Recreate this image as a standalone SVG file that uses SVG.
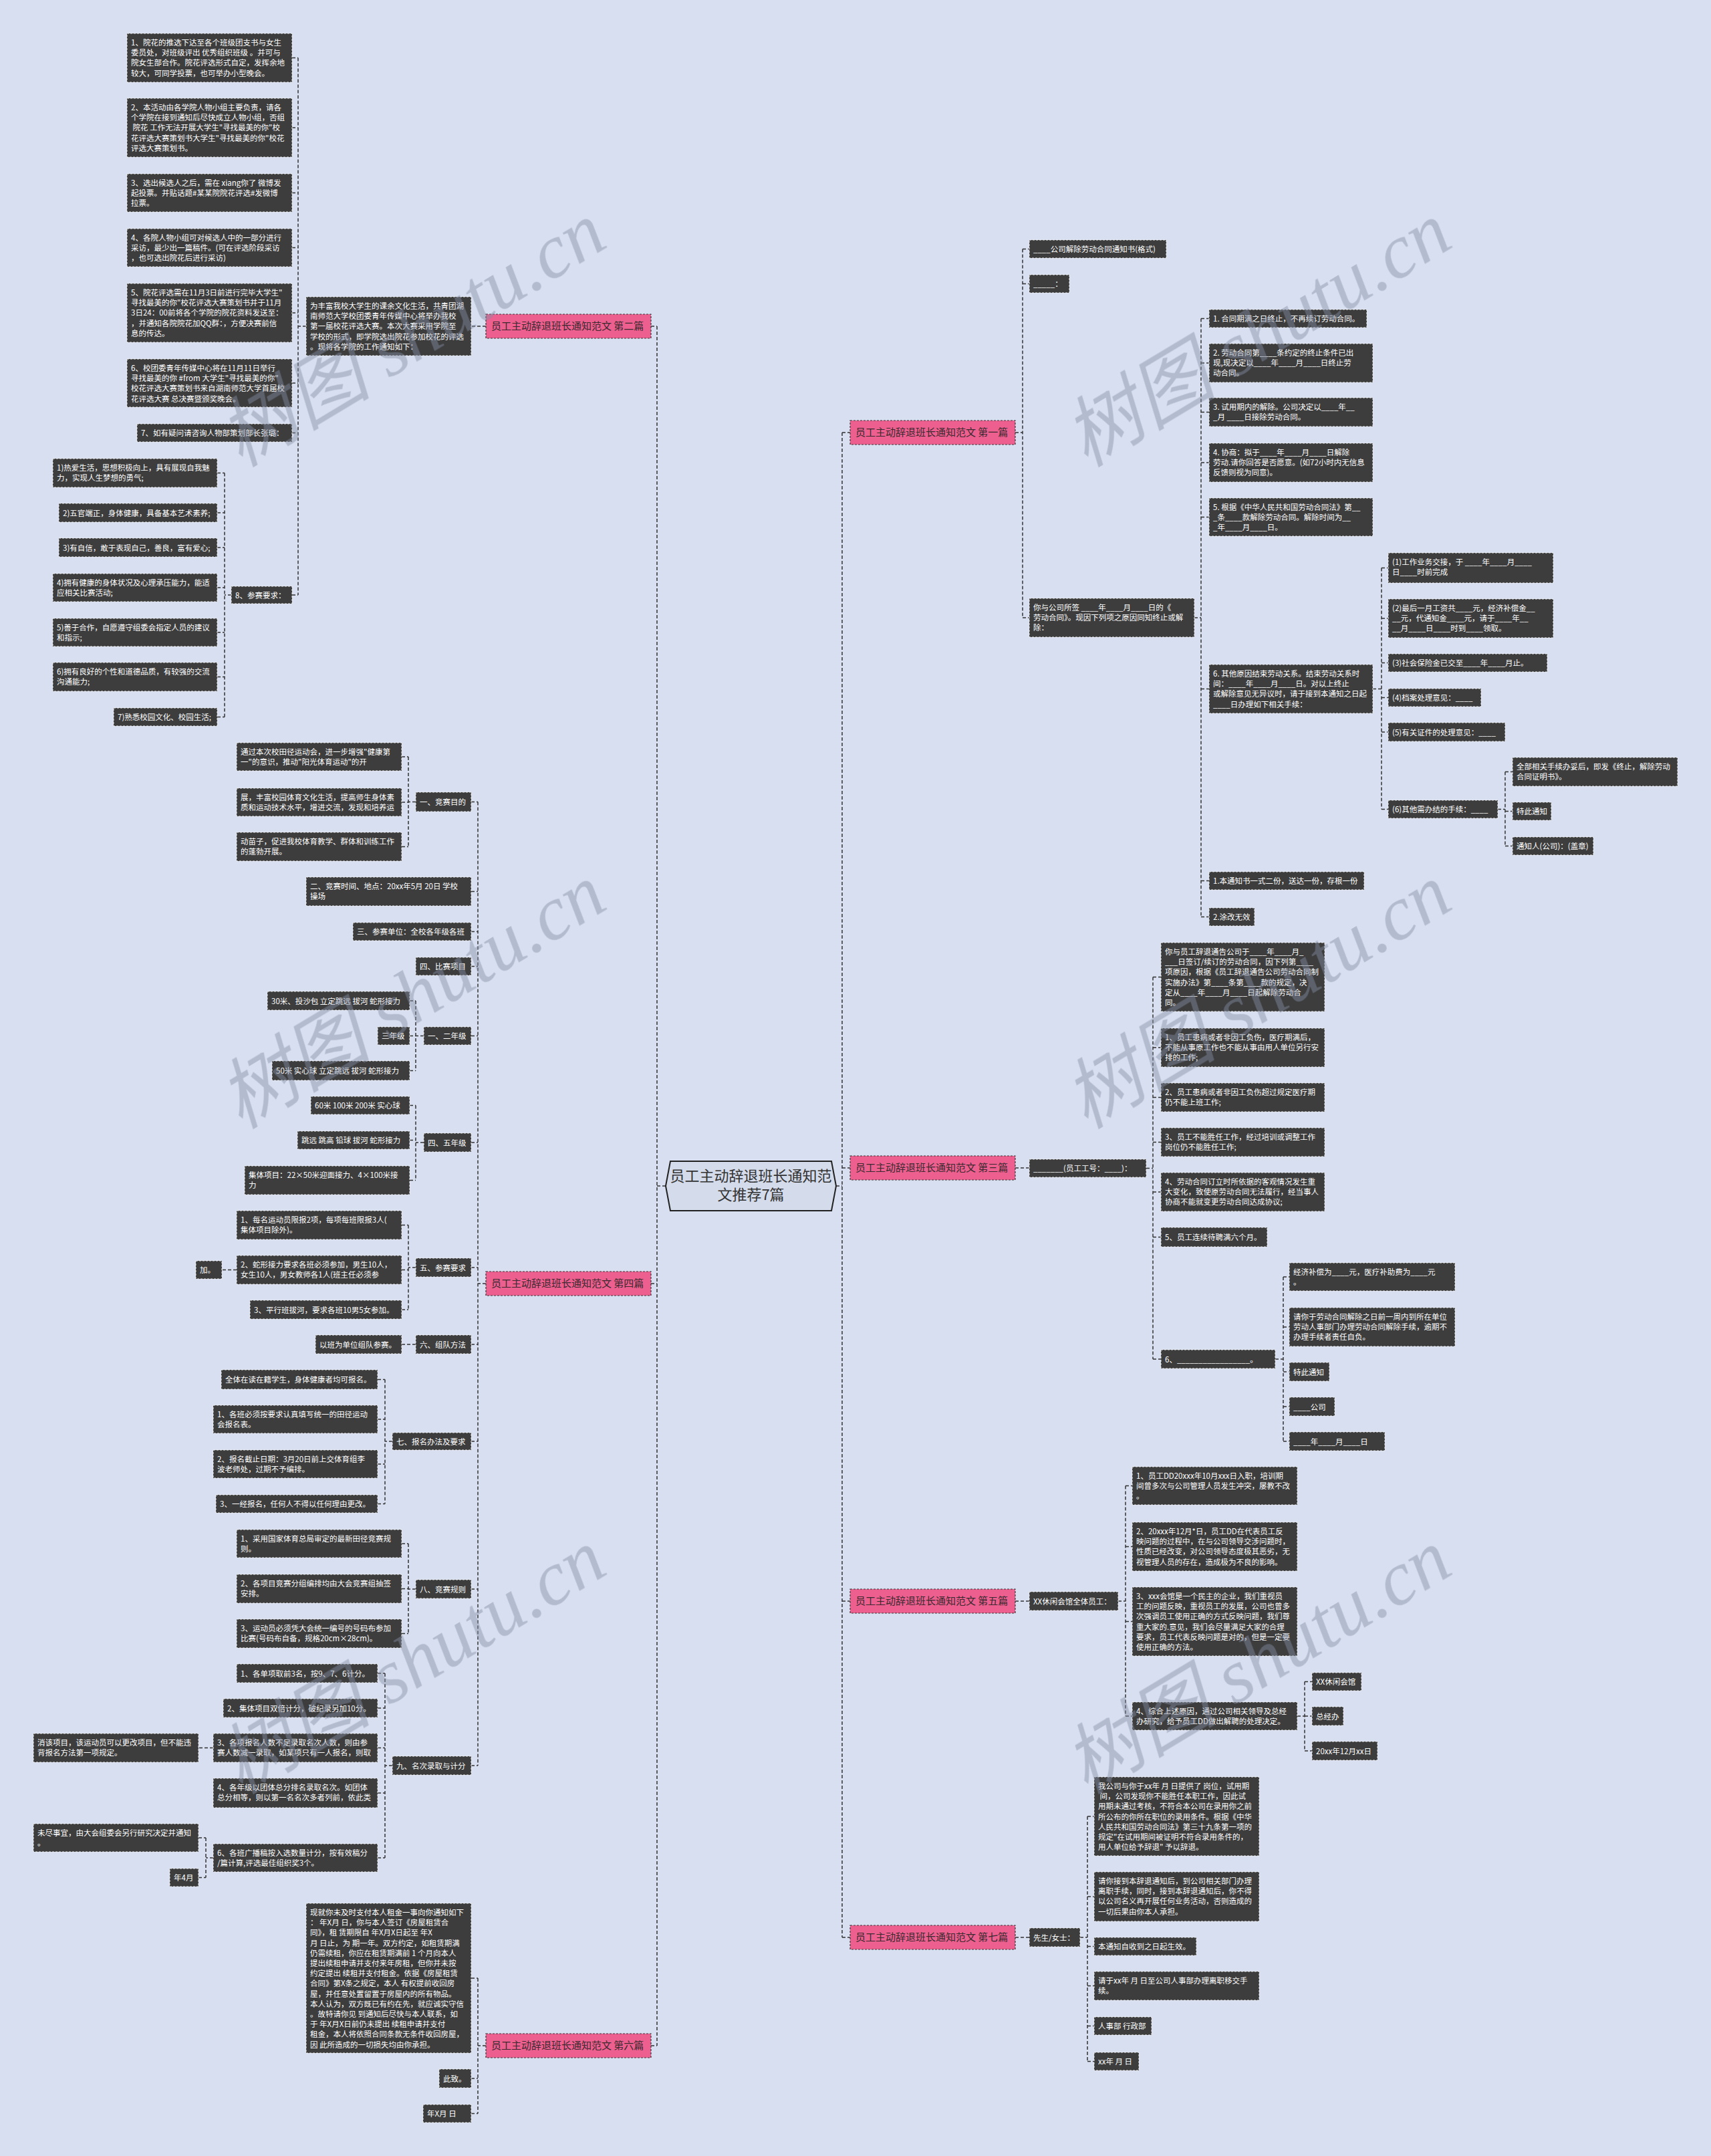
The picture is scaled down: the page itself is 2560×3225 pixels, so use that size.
<svg xmlns="http://www.w3.org/2000/svg" width="2560" height="3225" viewBox="0 0 2560 3225">
<style>
.bg{fill:#d8dff1}
.n rect{fill:#3d3d3d;stroke:#eeeeee;stroke-width:1;stroke-dasharray:3 2}
.n text{fill:#ffffff;font-size:11.5px;font-family:"Noto Sans CJK SC","Liberation Sans",sans-serif}
.p rect{fill:#ec5f8e;stroke:#3a3a3a;stroke-width:1.2;stroke-dasharray:3 2}
.p text{fill:#3a2a30;font-size:15px;font-family:"Noto Sans CJK SC","Liberation Sans",sans-serif}
.root polygon{fill:#d4dbea;stroke:#222;stroke-width:2}
.root text{fill:#333;font-size:22px;font-family:"Noto Sans CJK SC","Liberation Sans",sans-serif;text-anchor:middle}
.c path{fill:none;stroke:#333;stroke-width:1.5;stroke-dasharray:5 3}
.wm{fill:#8690a6;opacity:0.45;font-size:115px;font-family:"Liberation Serif","Noto Sans CJK SC",serif;font-style:italic}
</style>
<rect class="bg" x="0" y="0" width="2560" height="3225"/>

<g id="connectors" class="c">
<path d="M983,488 V3060 M974,488 H983 M974,1920 H983 M974,3060 H983 M996,1774 H983"/>
<path d="M727,488 H705 M458,488 H446 M446,86.5 V890 M437,86.5 H446 M437,191 H446 M437,288.5 H446 M437,370.5 H446 M437,468 H446 M437,573 H446 M437,647.5 H446 M437,890 H446"/>
<path d="M346,890 H336 M336,707.5 V1072.5 M325,707.5 H336 M325,767 H336 M325,819 H336 M325,879 H336 M325,946 H336 M325,1012.5 H336 M325,1072.5 H336"/>
<path d="M727,1920 H715 M715,1199.5 V2641 M705,1199.5 H715 M705,1333.5 H715 M705,1393.5 H715 M705,1445.5 H715 M705,1549.5 H715 M705,1709 H715 M705,1896 H715 M705,2011 H715 M705,2156 H715 M705,2377 H715 M705,2641 H715"/>
<path d="M622,1199.5 H611 M611,1132 V1266.5 M601,1132 H611 M601,1200 H611 M601,1266.5 H611"/>
<path d="M634,1549.5 H622 M622,1497 V1601.5 M613,1497 H622 M613,1549.5 H622 M613,1601.5 H622"/>
<path d="M634,1709 H622 M622,1653.5 V1765.5 M613,1653.5 H622 M613,1705.5 H622 M613,1765.5 H622"/>
<path d="M622,1896 H611 M611,1832.5 V1959 M601,1832.5 H611 M601,1899.5 H611 M601,1959 H611 M354,1899.5 H332"/>
<path d="M622,2011 H601"/>
<path d="M587,2156 H576 M576,2063.5 V2249.5 M565,2063.5 H576 M565,2123 H576 M565,2190 H576 M565,2249.5 H576"/>
<path d="M622,2377 H611 M611,2309 V2443.5 M601,2309 H611 M601,2376.5 H611 M601,2443.5 H611"/>
<path d="M587,2641 H576 M576,2503 V2779 M565,2503 H576 M565,2555 H576 M565,2614.5 H576 M565,2682 H576 M565,2779 H576 M319,2614.5 H297"/>
<path d="M319,2779 H308 M308,2749 V2808.5 M297,2749 H308 M297,2808.5 H308"/>
<path d="M727,3060 H715 M715,2959 V3161.5 M705,2959 H715 M705,3109 H715 M705,3161.5 H715"/>
<path d="M1260,647 V2898 M1251,1774 H1260 M1260,647 H1272 M1260,1747 H1272 M1260,2395 H1272 M1260,2898 H1272"/>
<path d="M1519,647 H1530 M1530,372.5 V924 M1530,372.5 H1540 M1530,424.5 H1540 M1530,924 H1540"/>
<path d="M1787,924 H1797 M1797,476.5 V1371.5 M1797,476.5 H1809 M1797,543 H1809 M1797,616.5 H1809 M1797,692 H1809 M1797,773.5 H1809 M1797,1030.5 H1809 M1797,1317.5 H1809 M1797,1371.5 H1809"/>
<path d="M2054,1030.5 H2067 M2067,849.5 V1210.5 M2067,849.5 H2077 M2067,925 H2077 M2067,991.5 H2077 M2067,1043.5 H2077 M2067,1095 H2077 M2067,1210.5 H2077"/>
<path d="M2241,1210.5 H2252 M2252,1154.5 V1265.5 M2252,1154.5 H2263 M2252,1213.5 H2263 M2252,1265.5 H2263"/>
<path d="M1519,1747 H1540 M1715,1747.5 H1725 M1725,1461.5 V2033 M1725,1461.5 H1737 M1725,1567 H1737 M1725,1641.5 H1737 M1725,1708.5 H1737 M1725,1783 H1737 M1725,1850.5 H1737 M1725,2033 H1737"/>
<path d="M1908,2033 H1920 M1920,1910 V2156 M1920,1910 H1929 M1920,1985 H1929 M1920,2052 H1929 M1920,2104 H1929 M1920,2156 H1929"/>
<path d="M1519,2395 H1540 M1673,2395 H1684 M1684,2222.5 V2567 M1684,2222.5 H1694 M1684,2313.5 H1694 M1684,2425.5 H1694 M1684,2567 H1694"/>
<path d="M1941,2567 H1952 M1952,2515.5 V2619 M1952,2515.5 H1963 M1952,2567 H1963 M1952,2619 H1963"/>
<path d="M1519,2898 H1540 M1616,2898 H1627 M1627,2717 V3083.5 M1627,2717 H1637 M1627,2837 H1637 M1627,2911.5 H1637 M1627,2970.5 H1637 M1627,3030.5 H1637 M1627,3083.5 H1637"/>
</g>

<g id="root" class="root">
<polygon points="996,1774 1003,1737 1244,1737 1251,1774 1244,1811 1003,1811"/>
<text x="1123.5" y="1767">员工主动辞退班长通知范</text>
<text x="1123.5" y="1795">文推荐7篇</text>
</g>

<!-- 第二篇 -->
<g id="b2" class="p" transform="translate(727,470)"><rect width="247" height="36"/><text x="8" y="23">员工主动辞退班长通知范文 第二篇</text></g>
<g id="b2_intro" class="n" transform="translate(458,444)"><rect width="247" height="88"/><text><tspan x="6" y="18">为丰富我校大学生的课余文化生活，共青团湖</tspan><tspan x="6" y="33.2">南师范大学校团委青年传媒中心将举办我校</tspan><tspan x="6" y="48.4">第一届校花评选大赛。本次大赛采用学院至</tspan><tspan x="6" y="63.6">学校的形式，即学院选出院花参加校花的评选</tspan><tspan x="6" y="78.8">。现将各学院的工作通知如下：</tspan></text></g>
<g id="b2_1" class="n" transform="translate(190,50)"><rect width="247" height="73"/><text><tspan x="6" y="18">1、院花的推选下达至各个班级团支书与女生</tspan><tspan x="6" y="33.2">委员处，对班级评出 优秀组织班级 。并可与</tspan><tspan x="6" y="48.4">院女生部合作。院花评选形式自定，发挥余地</tspan><tspan x="6" y="63.6">较大，可同学投票，也可举办小型晚会。</tspan></text></g>
<g id="b2_2" class="n" transform="translate(190,147)"><rect width="247" height="88"/><text><tspan x="6" y="18">2、本活动由各学院人物小组主要负责，请各</tspan><tspan x="6" y="33.2">个学院在接到通知后尽快成立人物小组，否组</tspan><tspan x="6" y="48.4"> 院花 工作无法开展大学生"寻找最美的你"校</tspan><tspan x="6" y="63.6">花评选大赛策划书大学生"寻找最美的你"校花</tspan><tspan x="6" y="78.8">评选大赛策划书。</tspan></text></g>
<g id="b2_3" class="n" transform="translate(190,260)"><rect width="247" height="57"/><text><tspan x="6" y="18">3、选出候选人之后，需在 xiang你了 微博发</tspan><tspan x="6" y="33.2">起投票。并贴话题#某某院院花评选#发微博</tspan><tspan x="6" y="48.4">拉票。</tspan></text></g>
<g id="b2_4" class="n" transform="translate(190,342)"><rect width="247" height="57"/><text><tspan x="6" y="18">4、各院人物小组可对候选人中的一部分进行</tspan><tspan x="6" y="33.2">采访，最少出一篇稿件。(可在评选阶段采访</tspan><tspan x="6" y="48.4">，也可选出院花后进行采访)</tspan></text></g>
<g id="b2_5" class="n" transform="translate(190,424)"><rect width="247" height="88"/><text><tspan x="6" y="18">5、院花评选需在11月3日前进行完毕大学生"</tspan><tspan x="6" y="33.2">寻找最美的你"校花评选大赛策划书并于11月</tspan><tspan x="6" y="48.4">3日24：00前将各个学院的院花资料发送至：</tspan><tspan x="6" y="63.6">，并通知各院院花加QQ群：，方便决赛前信</tspan><tspan x="6" y="78.8">息的传达。</tspan></text></g>
<g id="b2_6" class="n" transform="translate(190,537)"><rect width="247" height="72"/><text><tspan x="6" y="18">6、校团委青年传媒中心将在11月11日举行</tspan><tspan x="6" y="33.2">寻找最美的你 #from 大学生"寻找最美的你"</tspan><tspan x="6" y="48.4">校花评选大赛策划书来自湖南师范大学首届校</tspan><tspan x="6" y="63.6">花评选大赛 总决赛暨颁奖晚会。</tspan></text></g>
<g id="b2_7" class="n" transform="translate(205,634)"><rect width="232" height="27"/><text x="6" y="18">7、如有疑问请咨询人物部策划部长张璐：</text></g>
<g id="b2_8" class="n" transform="translate(346,877)"><rect width="91" height="26"/><text x="6" y="17.5">8、参赛要求：</text></g>
<g id="b2_8_1" class="n" transform="translate(79,686)"><rect width="246" height="43"/><text><tspan x="6" y="18">1)热爱生活，思想积极向上，具有展现自我魅</tspan><tspan x="6" y="33.2">力，实现人生梦想的勇气;</tspan></text></g>
<g id="b2_8_2" class="n" transform="translate(88,753)"><rect width="237" height="28"/><text x="6" y="18.5">2)五官端正，身体健康，具备基本艺术素养;</text></g>
<g id="b2_8_3" class="n" transform="translate(88,805)"><rect width="237" height="28"/><text x="6" y="18.5">3)有自信，敢于表现自己，善良，富有爱心;</text></g>
<g id="b2_8_4" class="n" transform="translate(79,858)"><rect width="246" height="42"/><text><tspan x="6" y="18">4)拥有健康的身体状况及心理承压能力，能适</tspan><tspan x="6" y="33.2">应相关比赛活动;</tspan></text></g>
<g id="b2_8_5" class="n" transform="translate(79,925)"><rect width="246" height="42"/><text><tspan x="6" y="18">5)善于合作，自愿遵守组委会指定人员的建议</tspan><tspan x="6" y="33.2">和指示;</tspan></text></g>
<g id="b2_8_6" class="n" transform="translate(79,991)"><rect width="246" height="43"/><text><tspan x="6" y="18">6)拥有良好的个性和道德品质，有较强的交流</tspan><tspan x="6" y="33.2">沟通能力;</tspan></text></g>
<g id="b2_8_7" class="n" transform="translate(170,1059)"><rect width="155" height="27"/><text x="6" y="18">7)熟悉校园文化、校园生活;</text></g>

<!-- 第四篇 -->
<g id="b4" class="p" transform="translate(727,1902)"><rect width="247" height="36"/><text x="8" y="23">员工主动辞退班长通知范文 第四篇</text></g>
<g id="b4_1" class="n" transform="translate(622,1185)"><rect width="83" height="29"/><text x="6" y="19">一、竞赛目的</text></g>
<g id="b4_1a" class="n" transform="translate(354,1111)"><rect width="247" height="42"/><text><tspan x="6" y="18">通过本次校田径运动会，进一步增强"健康第</tspan><tspan x="6" y="33.2">一"的意识，推动"阳光体育运动"的开</tspan></text></g>
<g id="b4_1b" class="n" transform="translate(354,1179)"><rect width="247" height="42"/><text><tspan x="6" y="18">展，丰富校园体育文化生活，提高师生身体素</tspan><tspan x="6" y="33.2">质和运动技术水平，增进交流，发现和培养运</tspan></text></g>
<g id="b4_1c" class="n" transform="translate(354,1245)"><rect width="247" height="43"/><text><tspan x="6" y="18">动苗子，促进我校体育教学、群体和训练工作</tspan><tspan x="6" y="33.2">的蓬勃开展。</tspan></text></g>
<g id="b4_2" class="n" transform="translate(458,1312)"><rect width="247" height="43"/><text><tspan x="6" y="18">二、竞赛时间、地点：20xx年5月 20日 学校</tspan><tspan x="6" y="33.2">操场</tspan></text></g>
<g id="b4_3" class="n" transform="translate(528,1380)"><rect width="177" height="27"/><text x="6" y="18">三、参赛单位：全校各年级各班</text></g>
<g id="b4_4" class="n" transform="translate(622,1432)"><rect width="83" height="27"/><text x="6" y="18">四、比赛项目</text></g>
<g id="b4_g12" class="n" transform="translate(634,1536)"><rect width="71" height="27"/><text x="6" y="18">一、二年级</text></g>
<g id="b4_g12a" class="n" transform="translate(400,1483)"><rect width="213" height="28"/><text x="6" y="18.5">30米、投沙包 立定跳远 拔河 蛇形接力</text></g>
<g id="b4_g12b" class="n" transform="translate(565,1536)"><rect width="48" height="27"/><text x="6" y="18">三年级</text></g>
<g id="b4_g12c" class="n" transform="translate(407,1587)"><rect width="206" height="29"/><text x="6" y="19">50米 实心球 立定跳远 拔河 蛇形接力</text></g>
<g id="b4_g45" class="n" transform="translate(634,1695)"><rect width="71" height="28"/><text x="6" y="18.5">四、五年级</text></g>
<g id="b4_g45a" class="n" transform="translate(465,1640)"><rect width="148" height="27"/><text x="6" y="18">60米 100米 200米 实心球</text></g>
<g id="b4_g45b" class="n" transform="translate(445,1692)"><rect width="168" height="27"/><text x="6" y="18">跳远 跳高 铅球 拔河 蛇形接力</text></g>
<g id="b4_g45c" class="n" transform="translate(366,1744)"><rect width="247" height="43"/><text><tspan x="6" y="18">集体项目：22×50米迎面接力、4×100米接</tspan><tspan x="6" y="33.2">力</tspan></text></g>
<g id="b4_5" class="n" transform="translate(622,1882)"><rect width="83" height="28"/><text x="6" y="18.5">五、参赛要求</text></g>
<g id="b4_5a" class="n" transform="translate(354,1811)"><rect width="247" height="43"/><text><tspan x="6" y="18">1、每名运动员限报2项，每项每班限报3人(</tspan><tspan x="6" y="33.2">集体项目除外)。</tspan></text></g>
<g id="b4_5b" class="n" transform="translate(354,1878)"><rect width="247" height="43"/><text><tspan x="6" y="18">2、蛇形接力要求各班必须参加，男生10人，</tspan><tspan x="6" y="33.2">女生10人，男女教师各1人(班主任必须参</tspan></text></g>
<g id="b4_5b1" class="n" transform="translate(293,1886)"><rect width="39" height="27"/><text x="6" y="18">加。</text></g>
<g id="b4_5c" class="n" transform="translate(374,1945)"><rect width="227" height="28"/><text x="6" y="18.5">3、平行班拔河，要求各班10男5女参加。</text></g>
<g id="b4_6" class="n" transform="translate(622,1997)"><rect width="83" height="28"/><text x="6" y="18.5">六、组队方法</text></g>
<g id="b4_6a" class="n" transform="translate(472,1997)"><rect width="129" height="28"/><text x="6" y="18.5">以班为单位组队参赛。</text></g>
<g id="b4_7" class="n" transform="translate(587,2143)"><rect width="118" height="26"/><text x="6" y="17.5">七、报名办法及要求</text></g>
<g id="b4_7a" class="n" transform="translate(331,2049)"><rect width="234" height="29"/><text x="6" y="19">全体在读在籍学生，身体健康者均可报名。</text></g>
<g id="b4_7b" class="n" transform="translate(319,2102)"><rect width="246" height="42"/><text><tspan x="6" y="18">1、各班必须按要求认真填写统一的田径运动</tspan><tspan x="6" y="33.2">会报名表。</tspan></text></g>
<g id="b4_7c" class="n" transform="translate(319,2169)"><rect width="246" height="42"/><text><tspan x="6" y="18">2、报名截止日期：3月20日前上交体育组李</tspan><tspan x="6" y="33.2">波老师处，过期不予编排。</tspan></text></g>
<g id="b4_7d" class="n" transform="translate(323,2236)"><rect width="242" height="27"/><text x="6" y="18">3、一经报名，任何人不得以任何理由更改。</text></g>
<g id="b4_8" class="n" transform="translate(622,2363)"><rect width="83" height="28"/><text x="6" y="18.5">八、竞赛规则</text></g>
<g id="b4_8a" class="n" transform="translate(354,2288)"><rect width="247" height="42"/><text><tspan x="6" y="18">1、采用国家体育总局审定的最新田径竞赛规</tspan><tspan x="6" y="33.2">则。</tspan></text></g>
<g id="b4_8b" class="n" transform="translate(354,2355)"><rect width="247" height="43"/><text><tspan x="6" y="18">2、各项目竞赛分组编排均由大会竞赛组抽签</tspan><tspan x="6" y="33.2">安排。</tspan></text></g>
<g id="b4_8c" class="n" transform="translate(354,2422)"><rect width="247" height="43"/><text><tspan x="6" y="18">3、运动员必须凭大会统一编号的号码布参加</tspan><tspan x="6" y="33.2">比赛(号码布自备，规格20cm×28cm)。</tspan></text></g>
<g id="b4_9" class="n" transform="translate(587,2627)"><rect width="118" height="28"/><text x="6" y="18.5">九、名次录取与计分</text></g>
<g id="b4_9a" class="n" transform="translate(354,2489)"><rect width="211" height="28"/><text x="6" y="18.5">1、各单项取前3名，按9、7、6计分。</text></g>
<g id="b4_9b" class="n" transform="translate(334,2541)"><rect width="231" height="28"/><text x="6" y="18.5">2、集体项目双倍计分，破纪录另加10分。</text></g>
<g id="b4_9c" class="n" transform="translate(319,2593)"><rect width="246" height="43"/><text><tspan x="6" y="18">3、各项报名人数不足录取名次人数，则由参</tspan><tspan x="6" y="33.2">赛人数减一录取，如某项只有一人报名，则取</tspan></text></g>
<g id="b4_9c1" class="n" transform="translate(50,2593)"><rect width="247" height="43"/><text><tspan x="6" y="18">消该项目，该运动员可以更改项目，但不能违</tspan><tspan x="6" y="33.2">背报名方法第一项规定。</tspan></text></g>
<g id="b4_9d" class="n" transform="translate(319,2660)"><rect width="246" height="44"/><text><tspan x="6" y="18">4、各年级以团体总分排名录取名次。如团体</tspan><tspan x="6" y="33.2">总分相等，则以第一名名次多者列前，依此类</tspan></text></g>
<g id="b4_9e" class="n" transform="translate(319,2758)"><rect width="246" height="42"/><text><tspan x="6" y="18">6、各班广播稿按入选数量计分，按有效稿分</tspan><tspan x="6" y="33.2">/篇计算,评选最佳组织奖3个。</tspan></text></g>
<g id="b4_9e1" class="n" transform="translate(50,2728)"><rect width="247" height="42"/><text><tspan x="6" y="18">未尽事宜，由大会组委会另行研究决定并通知</tspan><tspan x="6" y="33.2">。</tspan></text></g>
<g id="b4_9e2" class="n" transform="translate(254,2795)"><rect width="43" height="27"/><text x="6" y="18">年4月</text></g>

<!-- 第六篇 -->
<g id="b6" class="p" transform="translate(727,3042)"><rect width="247" height="36"/><text x="8" y="23">员工主动辞退班长通知范文 第六篇</text></g>
<g id="b6_1" class="n" transform="translate(458,2847)"><rect width="247" height="224"/><text><tspan x="6" y="18">现就你未及时支付本人租金一事向你通知如下</tspan><tspan x="6" y="33.2">： 年X月 日，你与本人签订《房屋租赁合</tspan><tspan x="6" y="48.4">同》，租 赁期限自 年X月X日起至 年X</tspan><tspan x="6" y="63.6">月 日止，为 期一年。双方约定，如租赁期满</tspan><tspan x="6" y="78.8">仍需续租，你应在租赁期满前 1 个月向本人</tspan><tspan x="6" y="94">提出续租申请并支付来年房租，但你并未按</tspan><tspan x="6" y="109.2">约定提出 续租并支付租金。依据《房屋租赁</tspan><tspan x="6" y="124.4">合同》第X条之规定，本人 有权提前收回房</tspan><tspan x="6" y="139.6">屋，并任意处置留置于房屋内的所有物品。</tspan><tspan x="6" y="154.8">本人认为，双方既已有约在先，就应诚实守信</tspan><tspan x="6" y="170">。故特请你见 到通知后尽快与本人联系，如</tspan><tspan x="6" y="185.2">于 年X月X日前仍未提出 续租申请并支付</tspan><tspan x="6" y="200.4">租金，本人将依照合同条款无条件收回房屋，</tspan><tspan x="6" y="215.6">因 此所造成的一切损失均由你承担。</tspan></text></g>
<g id="b6_2" class="n" transform="translate(657,3095)"><rect width="48" height="28"/><text x="6" y="18.5">此致。</text></g>
<g id="b6_3" class="n" transform="translate(633,3148)"><rect width="72" height="27"/><text x="6" y="18">年X月 日</text></g>

<!-- 第一篇 -->
<g id="b1" class="p" transform="translate(1272,629)"><rect width="247" height="36"/><text x="8" y="23">员工主动辞退班长通知范文 第一篇</text></g>
<g id="b1_1" class="n" transform="translate(1540,359)"><rect width="205" height="27"/><text x="6" y="18">____公司解除劳动合同通知书(格式)</text></g>
<g id="b1_2" class="n" transform="translate(1540,411)"><rect width="60" height="27"/><text x="6" y="18">_____：</text></g>
<g id="b1_3" class="n" transform="translate(1540,895)"><rect width="247" height="58"/><text><tspan x="6" y="18">你与公司所签 ____年____月____日的《</tspan><tspan x="6" y="33.2">劳动合同》。现因下列项之原因同知终止或解</tspan><tspan x="6" y="48.4">除：</tspan></text></g>
<g id="b1_3a" class="n" transform="translate(1809,463)"><rect width="236" height="27"/><text x="6" y="18">1. 合同期满之日终止，不再续订劳动合同。</text></g>
<g id="b1_3b" class="n" transform="translate(1809,514)"><rect width="245" height="58"/><text><tspan x="6" y="18">2. 劳动合同第____条约定的终止条件已出</tspan><tspan x="6" y="33.2">现,现决定以____年____月____日终止劳</tspan><tspan x="6" y="48.4">动合同。</tspan></text></g>
<g id="b1_3c" class="n" transform="translate(1809,595)"><rect width="245" height="43"/><text><tspan x="6" y="18">3. 试用期内的解除。公司决定以____年__</tspan><tspan x="6" y="33.2">_月 ____日接除劳动合同。</tspan></text></g>
<g id="b1_3d" class="n" transform="translate(1809,663)"><rect width="245" height="58"/><text><tspan x="6" y="18">4. 协商：拟于____年____月____日解除</tspan><tspan x="6" y="33.2">劳动.请你回答是否愿意。(如72小时内无信息</tspan><tspan x="6" y="48.4">反馈则视为同意)。</tspan></text></g>
<g id="b1_3e" class="n" transform="translate(1809,745)"><rect width="245" height="57"/><text><tspan x="6" y="18">5. 根据《中华人民共和国劳动合同法》第__</tspan><tspan x="6" y="33.2">_条____款解除劳动合同。解除时间为__</tspan><tspan x="6" y="48.4">_年____月____日。</tspan></text></g>
<g id="b1_3f" class="n" transform="translate(1809,994)"><rect width="245" height="73"/><text><tspan x="6" y="18">6. 其他原因结束劳动关系。结束劳动关系时</tspan><tspan x="6" y="33.2">间：____年____月____日。对以上终止</tspan><tspan x="6" y="48.4">或解除意见无异议时，请于接到本通知之日起</tspan><tspan x="6" y="63.6">____日办理如下相关手续：</tspan></text></g>
<g id="b1_3f1" class="n" transform="translate(2077,827)"><rect width="247" height="45"/><text><tspan x="6" y="18">(1)工作业务交接，于 ____年____月____</tspan><tspan x="6" y="33.2">日____时前完成</tspan></text></g>
<g id="b1_3f2" class="n" transform="translate(2077,896)"><rect width="247" height="58"/><text><tspan x="6" y="18">(2)最后一月工资共____元，经济补偿金__</tspan><tspan x="6" y="33.2">__元，代通知金____元，请于____年__</tspan><tspan x="6" y="48.4">__月____日____时到____领取。</tspan></text></g>
<g id="b1_3f3" class="n" transform="translate(2077,978)"><rect width="238" height="27"/><text x="6" y="18">(3)社会保险金已交至____年____月止。</text></g>
<g id="b1_3f4" class="n" transform="translate(2077,1030)"><rect width="139" height="27"/><text x="6" y="18">(4)档案处理意见：____</text></g>
<g id="b1_3f5" class="n" transform="translate(2077,1081)"><rect width="175" height="28"/><text x="6" y="18.5">(5)有关证件的处理意见：____</text></g>
<g id="b1_3f6" class="n" transform="translate(2077,1197)"><rect width="164" height="27"/><text x="6" y="18">(6)其他需办结的手续：____</text></g>
<g id="b1_3f6a" class="n" transform="translate(2263,1133)"><rect width="247" height="43"/><text><tspan x="6" y="18">全部相关手续办妥后，即发《终止，解除劳动</tspan><tspan x="6" y="33.2">合同证明书》。</tspan></text></g>
<g id="b1_3f6b" class="n" transform="translate(2263,1200)"><rect width="58" height="27"/><text x="6" y="18">特此通知</text></g>
<g id="b1_3f6c" class="n" transform="translate(2263,1252)"><rect width="121" height="27"/><text x="6" y="18">通知人(公司)：(盖章)</text></g>
<g id="b1_3g" class="n" transform="translate(1809,1304)"><rect width="232" height="27"/><text x="6" y="18">1.本通知书一式二份，送达一份，存根一份</text></g>
<g id="b1_3h" class="n" transform="translate(1809,1358)"><rect width="68" height="27"/><text x="6" y="18">2.涂改无效</text></g>

<!-- 第三篇 -->
<g id="b3" class="p" transform="translate(1272,1729)"><rect width="247" height="36"/><text x="8" y="23">员工主动辞退班长通知范文 第三篇</text></g>
<g id="b3_1" class="n" transform="translate(1540,1734)"><rect width="175" height="27"/><text x="6" y="18">_______(员工工号：____)：</text></g>
<g id="b3_1a" class="n" transform="translate(1737,1410)"><rect width="245" height="103"/><text><tspan x="6" y="18">你与员工辞退通告公司于____年____月_</tspan><tspan x="6" y="33.2">___日签订/续订的劳动合同，因下列第____</tspan><tspan x="6" y="48.4">项原因，根据《员工辞退通告公司劳动合同制</tspan><tspan x="6" y="63.6">实施办法》第____条第____款的规定，决</tspan><tspan x="6" y="78.8">定从____年____月____日起解除劳动合</tspan><tspan x="6" y="94">同。</tspan></text></g>
<g id="b3_1b" class="n" transform="translate(1737,1538)"><rect width="245" height="58"/><text><tspan x="6" y="18">1、员工患病或者非因工负伤，医疗期满后，</tspan><tspan x="6" y="33.2">不能从事原工作也不能从事由用人单位另行安</tspan><tspan x="6" y="48.4">排的工作;</tspan></text></g>
<g id="b3_1c" class="n" transform="translate(1737,1620)"><rect width="245" height="43"/><text><tspan x="6" y="18">2、员工患病或者非因工负伤超过规定医疗期</tspan><tspan x="6" y="33.2">仍不能上班工作;</tspan></text></g>
<g id="b3_1d" class="n" transform="translate(1737,1687)"><rect width="245" height="43"/><text><tspan x="6" y="18">3、员工不能胜任工作，经过培训或调整工作</tspan><tspan x="6" y="33.2">岗位仍不能胜任工作;</tspan></text></g>
<g id="b3_1e" class="n" transform="translate(1737,1754)"><rect width="245" height="58"/><text><tspan x="6" y="18">4、劳动合同订立时所依据的客观情况发生重</tspan><tspan x="6" y="33.2">大变化，致使原劳动合同无法履行，经当事人</tspan><tspan x="6" y="48.4">协商不能就变更劳动合同达成协议;</tspan></text></g>
<g id="b3_1f" class="n" transform="translate(1737,1836)"><rect width="159" height="29"/><text x="6" y="19">5、员工连续待聘满六个月。</text></g>
<g id="b3_1g" class="n" transform="translate(1737,2019)"><rect width="171" height="28"/><text x="6" y="18.5">6、_________________。</text></g>
<g id="b3_1g1" class="n" transform="translate(1929,1889)"><rect width="248" height="42"/><text><tspan x="6" y="18">经济补偿为____元，医疗补助费为____元</tspan><tspan x="6" y="33.2">。</tspan></text></g>
<g id="b3_1g2" class="n" transform="translate(1929,1956)"><rect width="248" height="58"/><text><tspan x="6" y="18">请你于劳动合同解除之日前一周内到所在单位</tspan><tspan x="6" y="33.2">劳动人事部门办理劳动合同解除手续，逾期不</tspan><tspan x="6" y="48.4">办理手续者责任自负。</tspan></text></g>
<g id="b3_1g3" class="n" transform="translate(1929,2038)"><rect width="60" height="28"/><text x="6" y="18.5">特此通知</text></g>
<g id="b3_1g4" class="n" transform="translate(1929,2090)"><rect width="68" height="28"/><text x="6" y="18.5">____公司</text></g>
<g id="b3_1g5" class="n" transform="translate(1929,2142)"><rect width="143" height="28"/><text x="6" y="18.5">____年____月____日</text></g>

<!-- 第五篇 -->
<g id="b5" class="p" transform="translate(1272,2377)"><rect width="247" height="36"/><text x="8" y="23">员工主动辞退班长通知范文 第五篇</text></g>
<g id="b5_1" class="n" transform="translate(1540,2381)"><rect width="133" height="28"/><text x="6" y="18.5">XX休闲会馆全体员工：</text></g>
<g id="b5_1a" class="n" transform="translate(1694,2194)"><rect width="247" height="57"/><text><tspan x="6" y="18">1、员工DD20xxx年10月xxx日入职，培训期</tspan><tspan x="6" y="33.2">间曾多次与公司管理人员发生冲突，屡教不改</tspan><tspan x="6" y="48.4">。</tspan></text></g>
<g id="b5_1b" class="n" transform="translate(1694,2277)"><rect width="247" height="73"/><text><tspan x="6" y="18">2、20xxx年12月*日，员工DD在代表员工反</tspan><tspan x="6" y="33.2">映问题的过程中，在与公司领导交涉问题时，</tspan><tspan x="6" y="48.4">性质已经改变，对公司领导态度极其恶劣，无</tspan><tspan x="6" y="63.6">视管理人员的存在，造成极为不良的影响。</tspan></text></g>
<g id="b5_1c" class="n" transform="translate(1694,2374)"><rect width="247" height="103"/><text><tspan x="6" y="18">3、xxx会馆是一个民主的企业，我们重视员</tspan><tspan x="6" y="33.2">工的问题反映，重视员工的发展，公司也曾多</tspan><tspan x="6" y="48.4">次强调员工使用正确的方式反映问题，我们尊</tspan><tspan x="6" y="63.6">重大家的.意见，我们会尽量满足大家的合理</tspan><tspan x="6" y="78.8">要求，员工代表反映问题是对的，但是一定要</tspan><tspan x="6" y="94">使用正确的方法。</tspan></text></g>
<g id="b5_1d" class="n" transform="translate(1694,2546)"><rect width="247" height="42"/><text><tspan x="6" y="18">4、综合上述原因，通过公司相关领导及总经</tspan><tspan x="6" y="33.2">办研究，给予员工DD做出解聘的处理决定。</tspan></text></g>
<g id="b5_1d1" class="n" transform="translate(1963,2502)"><rect width="74" height="27"/><text x="6" y="18">XX休闲会馆</text></g>
<g id="b5_1d2" class="n" transform="translate(1963,2553)"><rect width="47" height="28"/><text x="6" y="18.5">总经办</text></g>
<g id="b5_1d3" class="n" transform="translate(1963,2605)"><rect width="98" height="28"/><text x="6" y="18.5">20xx年12月xx日</text></g>

<!-- 第七篇 -->
<g id="b7" class="p" transform="translate(1272,2880)"><rect width="247" height="36"/><text x="8" y="23">员工主动辞退班长通知范文 第七篇</text></g>
<g id="b7_1" class="n" transform="translate(1540,2884)"><rect width="76" height="28"/><text x="6" y="18.5">先生/女士：</text></g>
<g id="b7_1a" class="n" transform="translate(1637,2658)"><rect width="247" height="118"/><text><tspan x="6" y="18">我公司与你于xx年 月 日提供了 岗位，试用期</tspan><tspan x="6" y="33.2"> 间，公司发现你不能胜任本职工作，因此试</tspan><tspan x="6" y="48.4">用期未通过考核，不符合本公司在录用你之前</tspan><tspan x="6" y="63.6">所公布的你所在职位的录用条件。根据《中华</tspan><tspan x="6" y="78.8">人民共和国劳动合同法》第三十九条第一项的</tspan><tspan x="6" y="94">规定"在试用期间被证明不符合录用条件的，</tspan><tspan x="6" y="109.2">用人单位给予辞退" 予以辞退。</tspan></text></g>
<g id="b7_1b" class="n" transform="translate(1637,2800)"><rect width="247" height="74"/><text><tspan x="6" y="18">请你接到本辞退通知后，到公司相关部门办理</tspan><tspan x="6" y="33.2">离职手续，同时，接到本辞退通知后，你不得</tspan><tspan x="6" y="48.4">以公司名义再开展任何业务活动，否则造成的</tspan><tspan x="6" y="63.6">一切后果由你本人承担。</tspan></text></g>
<g id="b7_1c" class="n" transform="translate(1637,2898)"><rect width="153" height="27"/><text x="6" y="18">本通知自收到之日起生效。</text></g>
<g id="b7_1d" class="n" transform="translate(1637,2949)"><rect width="247" height="43"/><text><tspan x="6" y="18">请于xx年 月 日至公司人事部办理离职移交手</tspan><tspan x="6" y="33.2">续。</tspan></text></g>
<g id="b7_1e" class="n" transform="translate(1637,3017)"><rect width="86" height="27"/><text x="6" y="18">人事部 行政部</text></g>
<g id="b7_1f" class="n" transform="translate(1637,3070)"><rect width="67" height="27"/><text x="6" y="18">xx年 月 日</text></g>

<g id="watermarks" class="wm">
<text transform="translate(360,700) rotate(-31)">树图 shutu.cn</text>
<text transform="translate(1625,700) rotate(-31)">树图 shutu.cn</text>
<text transform="translate(360,1690) rotate(-31)">树图 shutu.cn</text>
<text transform="translate(1625,1690) rotate(-31)">树图 shutu.cn</text>
<text transform="translate(360,2685) rotate(-31)">树图 shutu.cn</text>
<text transform="translate(1625,2685) rotate(-31)">树图 shutu.cn</text>
</g>
</svg>
